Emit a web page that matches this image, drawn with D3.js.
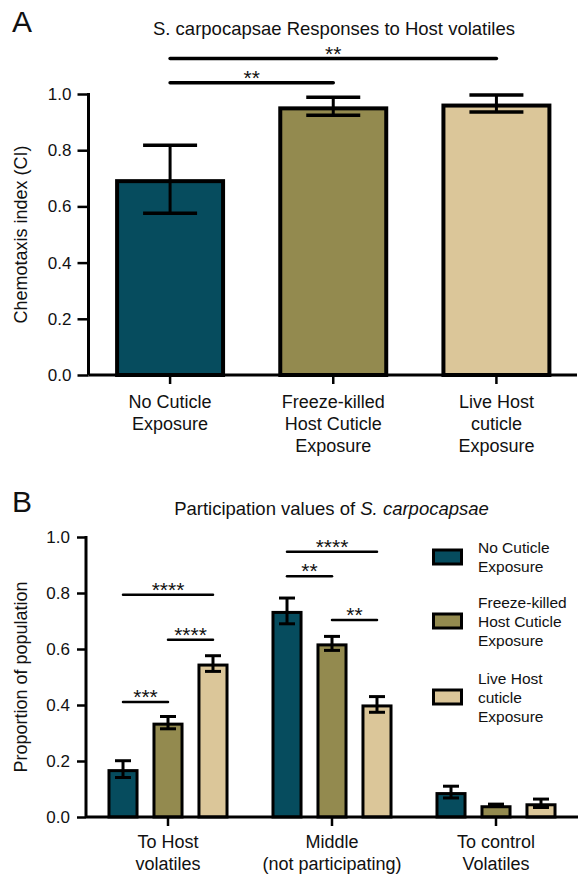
<!DOCTYPE html>
<html>
<head>
<meta charset="utf-8">
<script src="https://cdn.jsdelivr.net/npm/d3@7"></script>
<style>
  html, body { margin: 0; padding: 0; background: #fff; }
  svg { display: block; }
  text { font-family: "Liberation Sans", Arial, Helvetica, sans-serif; fill: #111; }
</style>
</head>
<body>
<svg id="chart" width="578" height="876"></svg>
<script>
// ---------- Panel A data ----------
const categoriesA = [["No Cuticle", "Exposure"], ["Freeze-killed", "Host Cuticle", "Exposure"], ["Live Host", "cuticle", "Exposure"]];
const valuesA = [0.697, 0.956, 0.966];
const errorsA = [0.121, 0.032, 0.030];
const yTicksA = [0.0, 0.2, 0.4, 0.6, 0.8, 1.0];
const sigA = [
  { from: 0, to: 2, level: 1.126, label: "**" },
  { from: 0, to: 1, level: 1.040, label: "**" }
];

// ---------- Panel B data ----------
const groupsB = [["To Host", "volatiles"], ["Middle", "(not participating)"], ["To control", "Volatiles"]];
const seriesNames = [["No Cuticle", "Exposure"], ["Freeze-killed", "Host Cuticle", "Exposure"], ["Live Host", "cuticle", "Exposure"]];
const noCuticle = [0.171, 0.736, 0.089];
const noCuticleErr = [0.030, 0.046, 0.021];
const freezeKilled = [0.337, 0.620, 0.042];
const freezeKilledErr = [0.022, 0.025, 0.004];
const liveHost = [0.548, 0.402, 0.049];
const liveHostErr = [0.028, 0.028, 0.015];
const yTicksB = [0.0, 0.2, 0.4, 0.6, 0.8, 1.0];
// significance brackets: group index, series from/to, level in data units
const sigB = [
  { group: 0, from: 0, to: 2, level: 0.794, label: "****" },
  { group: 0, from: 1, to: 2, level: 0.633, label: "****" },
  { group: 0, from: 0, to: 1, level: 0.411, label: "***" },
  { group: 1, from: 0, to: 2, level: 0.947, label: "****" },
  { group: 1, from: 0, to: 1, level: 0.860, label: "**" },
  { group: 1, from: 1, to: 2, level: 0.704, label: "**" }
];

const colors = ["#064c5e", "#938a4f", "#dbc699"];

const svg = d3.select("#chart");
const FONT = "'Liberation Sans', Arial, Helvetica, sans-serif";

// ================= PANEL A =================
(function () {
  const left = 88.5, right = 577, top = 94, bottom = 375;
  const y = d3.scaleLinear().domain([0, 1]).range([bottom, top]);
  const x = d3.scaleBand().domain(d3.range(categoriesA.length)).range([left, 578]).paddingInner(0.326).paddingOuter(0.163);
  const g = svg.append("g");

  g.append("text").attr("x", 12).attr("y", 32).attr("font-size", 30).text("A");
  g.append("text").attr("x", 334).attr("y", 35).attr("text-anchor", "middle").attr("font-size", 18.5)
    .text("S. carpocapsae Responses to Host volatiles");

  // bars
  const sw = 4;
  g.selectAll("rect.bar").data(valuesA).join("rect")
    .attr("x", (d, i) => x(i) + sw / 2)
    .attr("width", x.bandwidth() - sw)
    .attr("y", d => y(d) + sw / 2)
    .attr("height", d => y(0) - y(d) - sw / 2)
    .attr("fill", (d, i) => colors[i]).attr("stroke", "#000").attr("stroke-width", sw);

  // error bars
  valuesA.forEach((v, i) => {
    const cx = x(i) + x.bandwidth() / 2;
    const e = errorsA[i];
    g.append("line").attr("x1", cx).attr("x2", cx).attr("y1", y(v + e)).attr("y2", y(v - e)).attr("stroke", "#000").attr("stroke-width", 3);
    [v + e, v - e].forEach(t => g.append("line").attr("x1", cx - 27).attr("x2", cx + 27).attr("y1", y(t)).attr("y2", y(t)).attr("stroke", "#000").attr("stroke-width", 3.5));
  });

  // axes
  const ya = d3.axisLeft(y).tickValues(yTicksA).tickFormat(d3.format(".1f")).tickSize(11).tickPadding(6);
  const yg = g.append("g").attr("transform", `translate(${left},0)`).call(ya);
  yg.select(".domain").attr("stroke-width", 3).attr("d", `M0,${top - 1}V${bottom}`);
  yg.selectAll(".tick line").attr("stroke-width", 2.5);
  yg.selectAll(".tick text").attr("font-size", 17).attr("font-family", FONT).attr("fill", "#111");

  const xa = d3.axisBottom(x).tickSize(9).tickFormat("");
  const xg = g.append("g").attr("transform", `translate(0,${bottom})`).call(xa);
  xg.select(".domain").attr("stroke-width", 3).attr("d", `M${left},0H${right}`);
  xg.selectAll(".tick line").attr("stroke-width", 2.5);

  categoriesA.forEach((lines, i) => {
    const t = g.append("text").attr("text-anchor", "middle").attr("font-size", 18);
    lines.forEach((ln, k) => t.append("tspan").attr("x", x(i) + x.bandwidth() / 2).attr("y", 408 + k * 22).text(ln));
  });

  g.append("text").attr("transform", `translate(27,${(top + bottom) / 2}) rotate(-90)`).attr("text-anchor", "middle").attr("font-size", 18)
    .text("Chemotaxis index (CI)");

  // significance
  sigA.forEach(s => {
    const x1 = x(s.from) + x.bandwidth() / 2, x2 = x(s.to) + x.bandwidth() / 2;
    g.append("line").attr("x1", x1).attr("x2", x2).attr("y1", y(s.level)).attr("y2", y(s.level)).attr("stroke", "#000").attr("stroke-width", 3.5).attr("stroke-linecap", "round");
    g.append("text").attr("x", (x1 + x2) / 2).attr("y", y(s.level) + 2).attr("text-anchor", "middle").attr("font-size", 21).text(s.label);
  });
})();

// ================= PANEL B =================
(function () {
  const left = 86, right = 578, top = 537, bottom = 817;
  const y = d3.scaleLinear().domain([0, 1]).range([bottom, top]);
  const x0 = d3.scaleBand().domain(d3.range(groupsB.length)).range([left, 578]).paddingInner(0.177).paddingOuter(0.0885);
  const x1 = d3.scaleBand().domain([0, 1, 2]).range([0, x0.bandwidth()]).paddingInner(0.31).paddingOuter(0.155);
  const series = [
    { vals: noCuticle, errs: noCuticleErr },
    { vals: freezeKilled, errs: freezeKilledErr },
    { vals: liveHost, errs: liveHostErr }
  ];
  const g = svg.append("g");

  g.append("text").attr("x", 12).attr("y", 512).attr("font-size", 30).text("B");
  const title = g.append("text").attr("x", 331.5).attr("y", 515).attr("text-anchor", "middle").attr("font-size", 18.5);
  title.append("tspan").text("Participation values of ");
  title.append("tspan").attr("font-style", "italic").text("S. carpocapsae");

  const sw = 3;
  series.forEach((s, si) => {
    s.vals.forEach((v, gi) => {
      const bx = x0(gi) + x1(si);
      g.append("rect").attr("x", bx + sw / 2).attr("width", x1.bandwidth() - sw)
        .attr("y", y(v) + sw / 2).attr("height", Math.max(0, y(0) - y(v) - sw / 2))
        .attr("fill", colors[si]).attr("stroke", "#000").attr("stroke-width", sw);
      const cx = bx + x1.bandwidth() / 2, e = s.errs[gi];
      g.append("line").attr("x1", cx).attr("x2", cx).attr("y1", y(v + e)).attr("y2", y(v - e)).attr("stroke", "#000").attr("stroke-width", 3);
      [v + e, v - e].forEach(t => g.append("line").attr("x1", cx - 8).attr("x2", cx + 8).attr("y1", y(t)).attr("y2", y(t)).attr("stroke", "#000").attr("stroke-width", 3));
    });
  });

  const ya = d3.axisLeft(y).tickValues(yTicksB).tickFormat(d3.format(".1f")).tickSize(9).tickPadding(7);
  const yg = g.append("g").attr("transform", `translate(${left},0)`).call(ya);
  yg.select(".domain").attr("stroke-width", 3).attr("d", `M0,${top - 1}V${bottom}`);
  yg.selectAll(".tick line").attr("stroke-width", 2.5);
  yg.selectAll(".tick text").attr("font-size", 17).attr("font-family", FONT).attr("fill", "#111");

  const xa = d3.axisBottom(x0).tickSize(9).tickFormat("");
  const xg = g.append("g").attr("transform", `translate(0,${bottom})`).call(xa);
  xg.select(".domain").attr("stroke-width", 3).attr("d", `M${left},0H${right}`);
  xg.selectAll(".tick line").attr("stroke-width", 2.5);

  groupsB.forEach((lines, i) => {
    const t = g.append("text").attr("text-anchor", "middle").attr("font-size", 18);
    lines.forEach((ln, k) => t.append("tspan").attr("x", x0(i) + x0.bandwidth() / 2).attr("y", 848 + k * 22).text(ln));
  });

  g.append("text").attr("transform", `translate(27,${(top + bottom) / 2}) rotate(-90)`).attr("text-anchor", "middle").attr("font-size", 18)
    .text("Proportion of population");

  sigB.forEach(s => {
    const xa1 = x0(s.group) + x1(s.from) + x1.bandwidth() / 2;
    const xa2 = x0(s.group) + x1(s.to) + x1.bandwidth() / 2;
    g.append("line").attr("x1", xa1).attr("x2", xa2).attr("y1", y(s.level)).attr("y2", y(s.level)).attr("stroke", "#000").attr("stroke-width", 2.5).attr("stroke-linecap", "round");
    g.append("text").attr("x", (xa1 + xa2) / 2).attr("y", y(s.level) + 2).attr("text-anchor", "middle").attr("font-size", 21).text(s.label);
  });

  // legend
  const legY = [557, 621, 697];
  seriesNames.forEach((lines, i) => {
    g.append("rect").attr("x", 433.5).attr("y", legY[i] - 7).attr("width", 28).attr("height", 14)
      .attr("fill", colors[i]).attr("stroke", "#000").attr("stroke-width", 3);
    const t = g.append("text").attr("font-size", 15.5);
    const n = lines.length;
    lines.forEach((ln, k) => t.append("tspan").attr("x", 478).attr("y", legY[i] + 5.5 + (k - (n - 1) / 2) * 19).text(ln));
  });
})();
</script>
</body>
</html>
